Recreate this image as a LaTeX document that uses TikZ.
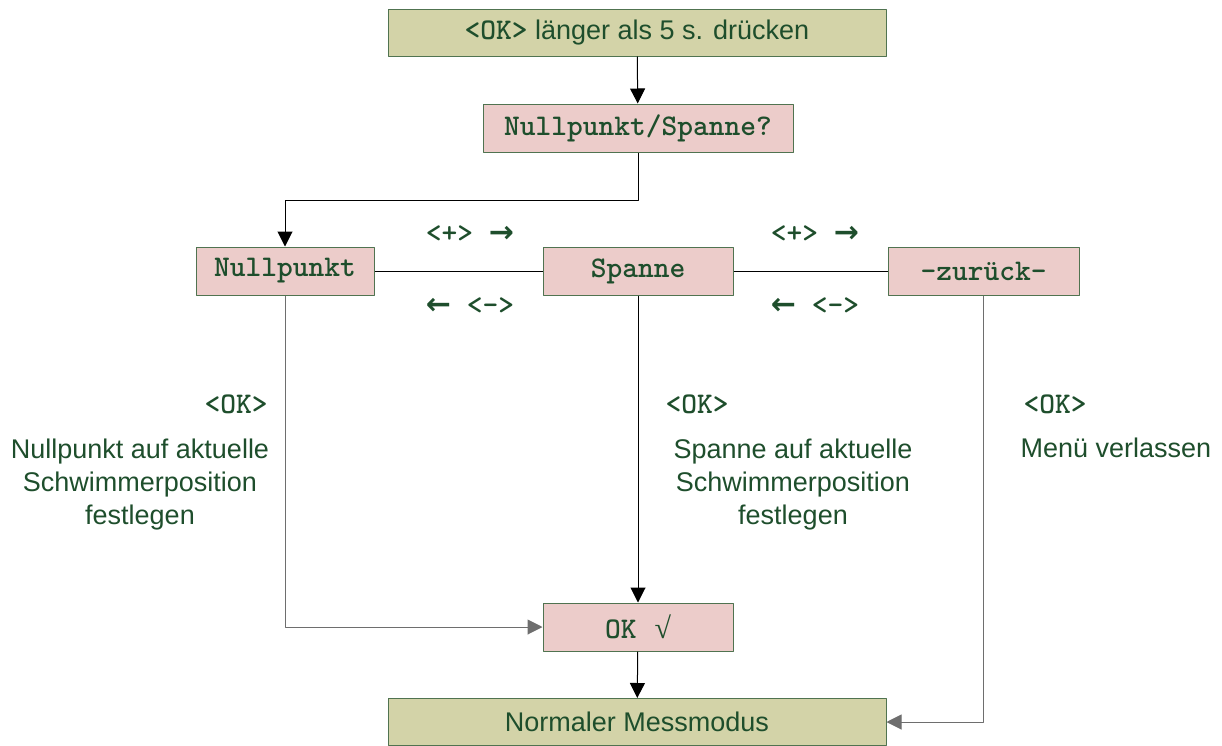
\documentclass[tikz,border=0pt]{standalone}
\usepackage{fontspec}
\setmainfont{Liberation Sans}
\newfontfamily\serifsym{Liberation Serif}
\newfontfamily\arrowfont{DejaVu Sans}
\usetikzlibrary{arrows.meta}
\definecolor{boxgreen}{RGB}{211,211,168}
\definecolor{boxpink}{RGB}{236,204,202}
\definecolor{edgegreen}{RGB}{80,115,80}
\definecolor{textgreen}{RGB}{30,78,44}
\definecolor{linegray}{RGB}{110,110,110}
\newcommand{\mainsize}{\fontsize{13.5}{16.5}\selectfont}
\newcommand{\keysize}{\fontsize{15}{16.5}\selectfont}
\newcommand{\keyarrowR}{{\arrowfont\bfseries\fontsize{15}{16.5}\selectfont →}}
\newcommand{\keyarrowL}{{\arrowfont\bfseries\fontsize{15}{16.5}\selectfont ←}}
\tikzset{
  stepgreen/.style={draw=edgegreen, fill=boxgreen, text=textgreen, minimum width=249pt, minimum height=23.5pt, inner sep=0pt, font=\mainsize},
  menubox/.style={draw=edgegreen, fill=boxpink, text=textgreen, minimum height=24pt, inner sep=0pt, font=\keysize\ttfamily\bfseries},
  keylabel/.style={text=textgreen, inner sep=0pt, font=\keysize\ttfamily\bfseries},
  note/.style={text=textgreen, align=center, inner sep=0pt, font=\mainsize},
}
\begin{document}
\begin{tikzpicture}[x=0.5pt, y=-0.5pt, >={Triangle[length=7.5pt,width=7.5pt]}, line width=0.5pt, line join=round]
  \useasboundingbox (0,0) rectangle (1222,745);
  % boxes
  \node[stepgreen] (press) at (637,32.5) {{\keysize\ttfamily\bfseries <OK>} länger als 5 s. drücken};
  \node[menubox, minimum width=155pt] (choose) at (638,128) {Nullpunkt/Spanne?};
  \node[menubox, minimum width=89pt] (zero) at (285,271) {Nullpunkt};
  \node[menubox, minimum width=95pt] (span) at (638,271) {Spanne};
  \node[menubox, minimum width=95.5pt] (back) at (983.5,271) {-zurück-};
  \node[menubox, minimum width=95pt] (done) at (638,627) {OK\hspace{9pt}{\serifsym\mdseries √}};
  \node[stepgreen] (normal) at (637,722) {Normaler Messmodus};
  \coordinate (split) at (638,200);
  % connectors
  \draw[->] (press) -- (choose);
  \draw[->] (choose.south) -- (split) -| (zero.north);
  \draw (zero) -- (span);
  \draw (span) -- (back);
  \draw[->, linegray] (zero.south) |- (done.west);
  \draw[->] (span) -- (done);
  \draw[->] (done) -- (normal);
  \draw[->, linegray] (back.south) |- (normal.east);
  % key labels
  \node[keylabel] (nextA) at (470,234) {<+> \keyarrowR};
  \node[keylabel] (prevA) at (470,306) {\keyarrowL{} <->};
  \node[keylabel] (nextB) at (815,234) {<+> \keyarrowR};
  \node[keylabel] (prevB) at (815,306) {\keyarrowL{} <->};
  \node[keylabel] (okzero) at (236,404) {<OK>};
  \node[keylabel] (okspan) at (697,404) {<OK>};
  \node[keylabel] (okback) at (1055,404) {<OK>};
  % notes
  \node[note] (zeronote) at (140,485) {Nullpunkt auf aktuelle\\Schwimmerposition\\festlegen};
  \node[note] (spannote) at (793,485) {Spanne auf aktuelle\\Schwimmerposition\\festlegen};
  \node[note] (backnote) at (1116,448) {Menü verlassen};
\end{tikzpicture}
\end{document}
